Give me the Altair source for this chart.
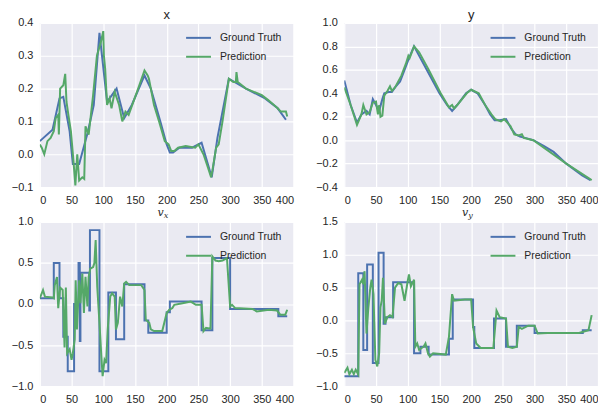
import altair as alt
import pandas as pd

# ---------------- data ----------------
x_gt_t = [0, 20, 31, 37, 47, 52, 62, 76, 85, 94, 106, 110, 121, 133, 145, 165, 175, 190, 200, 205, 210, 220, 240, 255, 271, 280, 298, 325, 355, 375, 388]
x_gt_v = [0.04, 0.075, 0.17, 0.175, 0.07, -0.03, -0.03, 0.07, 0.15, 0.37, 0.16, 0.17, 0.2, 0.11, 0.15, 0.24, 0.2, 0.1, 0.03, 0.005, 0.005, 0.02, 0.02, 0.035, -0.07, 0.05, 0.23, 0.2, 0.17, 0.14, 0.105]
x_pr_t = [0, 3, 7, 12, 17, 22, 25, 29, 30, 32, 37, 40, 42, 45, 49, 53, 56, 59, 62, 67, 70, 72, 77, 84, 90, 96, 100, 101, 103, 106, 110, 113, 118, 125, 130, 135, 140, 155, 165, 170, 172, 180, 188, 197, 203, 207, 212, 218, 230, 245, 250, 258, 265, 270, 272, 278, 282, 288, 298, 305, 309, 310, 312, 325, 350, 360, 375, 380, 388, 390]
x_pr_v = [0.03, 0.02, 0.0, 0.04, 0.05, 0.07, 0.11, 0.12, 0.06, 0.2, 0.21, 0.245, 0.16, 0.12, 0.07, -0.02, -0.095, 0.0, -0.08, -0.07, -0.075, 0.085, 0.06, 0.18, 0.3, 0.34, 0.375, 0.3, 0.26, 0.15, 0.17, 0.14, 0.19, 0.15, 0.1, 0.13, 0.12, 0.2, 0.255, 0.24, 0.23, 0.15, 0.1, 0.04, 0.03, 0.01, 0.01, 0.02, 0.025, 0.02, 0.03, 0.0, -0.04, -0.07, -0.05, 0.02, 0.03, 0.1, 0.23, 0.22, 0.22, 0.25, 0.22, 0.2, 0.18, 0.165, 0.14, 0.13, 0.13, 0.115]

y_gt_t = [0, 10, 20, 27, 35, 40, 45, 50, 55, 60, 63, 70, 75, 80, 88, 95, 102, 110, 120, 130, 140, 150, 162, 170, 178, 192, 200, 210, 222, 230, 237, 245, 255, 263, 270, 277, 285, 298, 315, 330, 350, 375, 388]
y_gt_v = [0.51, 0.3, 0.15, 0.22, 0.25, 0.22, 0.35, 0.3, 0.25, 0.35, 0.4, 0.41, 0.41, 0.45, 0.5, 0.6, 0.7, 0.8, 0.7, 0.6, 0.5, 0.4, 0.3, 0.25, 0.3, 0.4, 0.43, 0.4, 0.3, 0.22, 0.17, 0.17, 0.18, 0.1, 0.05, 0.03, 0.02, 0.0, -0.05, -0.1, -0.2, -0.3, -0.34]
y_pr_t = [0, 10, 20, 27, 30, 35, 40, 45, 50, 53, 55, 57, 60, 63, 68, 72, 75, 80, 90, 97, 101, 103, 110, 118, 133, 152, 165, 170, 173, 178, 193, 200, 212, 222, 232, 238, 247, 252, 262, 268, 275, 280, 283, 298, 350, 390]
y_pr_v = [0.45, 0.3, 0.13, 0.22, 0.3, 0.22, 0.24, 0.32, 0.33, 0.22, 0.3, 0.2, 0.21, 0.38, 0.42, 0.46, 0.42, 0.45, 0.55, 0.65, 0.72, 0.7, 0.8, 0.75, 0.6, 0.4, 0.28, 0.3, 0.27, 0.3, 0.4, 0.43, 0.4, 0.3, 0.22, 0.18, 0.16, 0.18, 0.12, 0.05, 0.04, 0.05, 0.02, 0.0, -0.2, -0.34]

vx_gt_t = [0, 22, 22, 31, 31, 37, 37, 44, 44, 54, 54, 61, 61, 63, 63, 64, 64, 78, 78, 79, 79, 94, 94, 108, 108, 120, 120, 133, 133, 165, 165, 171, 171, 200, 200, 205, 205, 255, 255, 272, 272, 300, 300, 376, 376, 390]
vx_gt_v = [0.07, 0.07, 0.5, 0.5, 0.07, 0.07, -0.4, -0.4, -0.82, -0.82, 0.0, 0.0, 0.5, 0.5, -0.45, -0.45, 0.38, 0.38, -0.08, -0.08, 0.9, 0.9, -0.82, -0.82, 0.14, 0.14, -0.43, -0.43, 0.24, 0.24, -0.2, -0.2, -0.35, -0.35, -0.1, -0.1, 0.03, 0.03, -0.32, -0.32, 0.56, 0.56, -0.06, -0.06, -0.15, -0.15]
vx_pr_t = [0, 5, 8, 20, 22, 23.5, 27, 29, 32, 36, 39, 41, 43, 47, 50, 52, 55, 56.5, 58.5, 62, 64, 67, 69.5, 72, 75, 77, 79.5, 84, 86, 88, 90.5, 94, 97, 99, 102, 104.5, 107, 111, 114, 118, 120, 123, 126.5, 130, 133, 136, 141, 160, 165, 167, 172.5, 175, 180, 193, 200, 204, 209, 212, 225, 238, 246, 255, 258, 262, 269, 272, 277, 282, 288, 295, 300, 303, 308, 335, 342, 361, 374, 379, 387, 390]
vx_pr_v = [0.07, 0.17, 0.09, 0.08, 0.07, 0.23, 0.33, -0.05, 0.2, 0.17, -0.53, 0.2, -0.6, -0.55, -0.68, -0.6, -0.43, 0.29, -0.31, 0.29, 0.01, 0.37, -0.11, 0.33, -0.03, 0.33, 0.43, 0.45, 0.5, 0.78, 0.21, -0.23, -0.64, -0.88, -0.68, -0.72, -0.31, 0.09, 0.13, 0.09, -0.31, -0.23, 0.09, -0.03, 0.25, 0.27, 0.23, 0.23, 0.17, -0.19, -0.23, -0.31, -0.33, -0.33, -0.11, -0.07, -0.05, -0.01, 0.01, 0.03, -0.01, -0.01, -0.33, -0.29, -0.3, 0.58, 0.53, 0.52, 0.53, 0.56, -0.03, -0.01, -0.05, -0.06, -0.09, -0.07, -0.08, -0.13, -0.13, -0.07]

vy_gt_t = [0, 22, 22, 30, 30, 36, 36, 45, 45, 54, 54, 62, 62, 65, 65, 77, 77, 110, 110, 120, 120, 133, 133, 165, 165, 171, 171, 203, 203, 205, 205, 236, 236, 255, 255, 272, 272, 300, 300, 376, 376, 390]
vy_gt_v = [-0.85, -0.85, 0.72, 0.72, -0.45, -0.45, 0.85, 0.85, -0.65, -0.65, 1.03, 1.03, -0.05, -0.05, 0.05, 0.05, 0.58, 0.58, -0.5, -0.5, -0.4, -0.4, -0.52, -0.52, -0.28, -0.28, 0.32, 0.32, -0.1, -0.1, -0.42, -0.42, 0.03, 0.03, -0.4, -0.4, -0.08, -0.08, -0.19, -0.19, -0.15, -0.15]
vy_pr_t = [0, 5, 8, 12, 15, 18, 22, 24, 28, 30, 32, 35, 38, 41, 43, 46, 49, 52, 55, 57, 59, 61, 63, 64, 68, 72, 76, 80, 85, 90, 95, 100, 102, 105, 108, 110, 112, 115, 118, 125, 128, 132, 135, 140, 160, 165, 170, 173, 190, 200, 203, 208, 215, 235, 240, 245, 255, 258, 265, 272, 275, 280, 290, 300, 305, 320, 370, 378, 385, 390]
vy_pr_v = [-0.8, -0.72, -0.82, -0.75, -0.82, -0.75, -0.82, 0.55, 0.62, 0.55, 0.75, -0.2, 0.2, 0.5, 0.62, 0.4, -0.6, -0.7, -0.5, 0.2, 0.3, 0.65, 0.2, -0.05, 0.05, 0.08, 0.05, 0.5, 0.57, 0.55, 0.3, 0.6, 0.7, 0.52, 0.58, 0.62, -0.4, -0.35, -0.45, -0.4, -0.35, -0.5, -0.55, -0.5, -0.52, -0.25, 0.4, 0.3, 0.32, 0.32, -0.1, -0.35, -0.42, -0.42, 0.15, 0.05, 0.03, -0.4, -0.42, -0.4, -0.1, -0.13, -0.08, -0.08, -0.2, -0.19, -0.19, -0.17, -0.15, 0.08]

series_names = ["Ground Truth", "Prediction"]
colors = ["#4C72B0", "#55A868"]

W, H = 255, 165
BG = "#EAEAF2"
FONT = "Liberation Sans"


def make_df(gt_t, gt_v, pr_t, pr_v):
    rows = []
    for i, (t, v) in enumerate(zip(gt_t, gt_v)):
        rows.append({"t": t, "v": v, "s": series_names[0], "i": i})
    for i, (t, v) in enumerate(zip(pr_t, pr_v)):
        rows.append({"t": t, "v": v, "s": series_names[1], "i": i})
    return pd.DataFrame(rows)


def panel(df, ymin, ymax, ystep, title=None, vsub=None):
    yticks = []
    k = 0
    while ymin + k * ystep <= ymax + 1e-9:
        yticks.append(round(ymin + k * ystep, 4))
        k += 1
    base = alt.Chart(df).mark_line(strokeWidth=2, clip=True).encode(
        x=alt.X("t:Q", scale=alt.Scale(domain=[0, 400], nice=False, zero=False),
                axis=alt.Axis(values=list(range(0, 401, 50)), format="d", title=None)),
        y=alt.Y("v:Q", scale=alt.Scale(domain=[ymin, ymax], nice=False, zero=False),
                axis=alt.Axis(values=yticks, format=".1f", title=None)),
        color=alt.Color("s:N", scale=alt.Scale(domain=series_names, range=colors),
                        legend=alt.Legend(title=None, orient="none", legendX=146, legendY=1.5,
                                          symbolType="stroke", symbolSize=625,
                                          symbolStrokeWidth=2, labelFontSize=10.5,
                                          labelFont=FONT, labelColor="#262626",
                                          rowPadding=-9, labelOffset=8)),
        order="i:Q",
        detail="s:N",
    )
    layers = [base]
    if vsub is not None:
        tdf = pd.DataFrame({"a": [0]})
        v = alt.Chart(tdf).mark_text(font="DejaVu Serif", fontStyle="italic", fontSize=11,
                                     align="right", baseline="alphabetic", color="#262626").encode(
            x=alt.value(W / 2 - 3), y=alt.value(-6), text=alt.value("v"))
        s = alt.Chart(tdf).mark_text(font="DejaVu Serif", fontStyle="italic", fontSize=8,
                                     align="left", baseline="alphabetic", color="#262626").encode(
            x=alt.value(W / 2 - 3), y=alt.value(-4), text=alt.value(vsub))
        layers += [v, s]
    ch = alt.layer(*layers).properties(width=W, height=H)
    if title is not None:
        ch = ch.properties(title=alt.TitleParams(title, fontSize=13, font=FONT,
                                                 fontWeight="normal", color="#262626", offset=-5))
    return ch


p1 = panel(make_df(x_gt_t, x_gt_v, x_pr_t, x_pr_v), -0.1, 0.4, 0.1, title="x")
p2 = panel(make_df(y_gt_t, y_gt_v, y_pr_t, y_pr_v), -0.4, 1.0, 0.2, title="y")
p3 = panel(make_df(vx_gt_t, vx_gt_v, vx_pr_t, vx_pr_v), -1.0, 1.0, 0.5, vsub="x")
p4 = panel(make_df(vy_gt_t, vy_gt_v, vy_pr_t, vy_pr_v), -1.0, 1.5, 0.5, vsub="y")

top = alt.hconcat(p1, p2, spacing=22).resolve_scale(color="independent").resolve_legend(color="independent")
bot = alt.hconcat(p3, p4, spacing=22).resolve_scale(color="independent").resolve_legend(color="independent")

chart = alt.vconcat(top, bot, spacing=2).resolve_scale(color="independent").resolve_legend(
    color="independent"
).configure(
    padding={"left": 3, "top": 0, "right": 0, "bottom": 0},
    background="white",
).configure_view(
    fill=BG, stroke=None
).configure_axis(
    grid=True, gridColor="white", gridWidth=1.2, domain=False, ticks=False,
    labelFont=FONT, labelFontSize=11, labelColor="#262626", labelPadding=7,
)

chart.save("out.html", embed_options={"renderer": "svg", "actions": False})
